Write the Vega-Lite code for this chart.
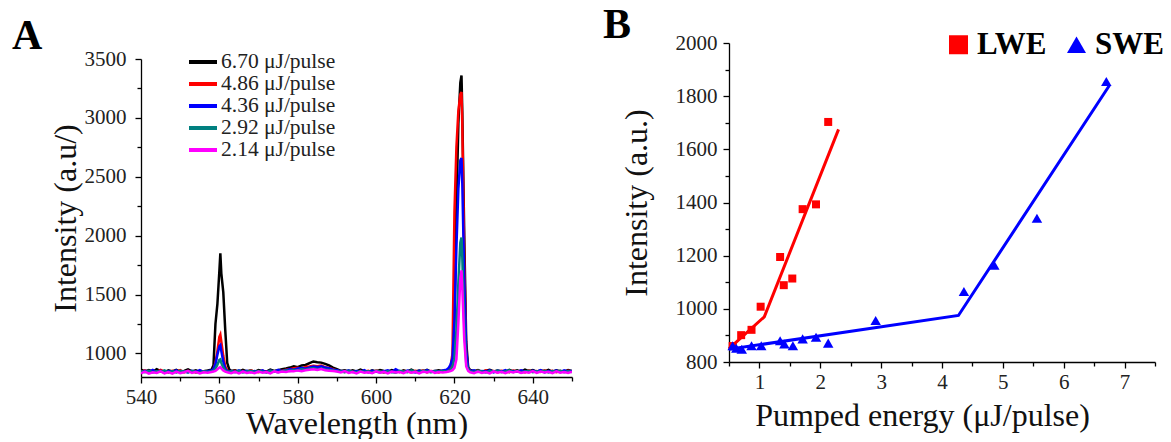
{
  "$schema": "https://vega.github.io/schema/vega-lite/v6.json",
  "background": "white",
  "padding": {"left": 12, "top": 4, "right": 0, "bottom": 0},
  "config": {
    "font": "Liberation Serif",
    "view": {"stroke": null},
    "axis": {"domainColor": "#000", "domainWidth": 1.3, "tickColor": "#000", "tickWidth": 1.3, "labelColor": "#222", "titleColor": "#111", "labelFont": "Liberation Serif", "titleFont": "Liberation Serif", "labelFontSize": 21, "titleFontSize": 32, "titleFontWeight": "normal", "grid": false, "labelPadding": 3, "labelFlush": false}
  },
  "resolve": {"scale": {"color": "independent", "shape": "independent", "x": "independent", "y": "independent"}, "legend": {"color": "independent", "shape": "independent"}},
  "spacing": 30,
  "hconcat": [
    {
      "bounds": "flush",
      "spacing": 15,
      "vconcat": [
        {"width": 431, "height": 1, "data": {"values": []}, "mark": "point"},
        {
          "width": 431,
          "height": 318,
          "title": {"text": "A", "fontSize": 42, "fontWeight": "bold", "anchor": "start", "frame": "bounds", "dx": -37, "offset": -10, "color": "#000", "font": "Liberation Serif"},
          "data": {"values": [
            {"w":540,"a":862,"b":845,"c":838,"d":850,"e":832},
            {"w":541,"a":848,"b":856,"c":852,"d":840,"e":845},
            {"w":542,"a":858,"b":838,"c":845,"d":852,"e":828},
            {"w":543,"a":845,"b":850,"c":860,"d":838,"e":840},
            {"w":544,"a":866,"b":842,"c":840,"d":848,"e":834},
            {"w":545,"a":850,"b":860,"c":852,"d":844,"e":848},
            {"w":546,"a":842,"b":846,"c":836,"d":856,"e":830},
            {"w":547,"a":856,"b":838,"c":850,"d":840,"e":842},
            {"w":548,"a":848,"b":852,"c":844,"d":848,"e":828},
            {"w":549,"a":860,"b":844,"c":856,"d":838,"e":846},
            {"w":550,"a":846,"b":858,"c":840,"d":852,"e":832},
            {"w":551,"a":852,"b":840,"c":848,"d":846,"e":840},
            {"w":552,"a":864,"b":850,"c":838,"d":840,"e":852},
            {"w":553,"a":848,"b":846,"c":852,"d":850,"e":834},
            {"w":554,"a":856,"b":838,"c":844,"d":842,"e":844},
            {"w":555,"a":842,"b":852,"c":858,"d":836,"e":830},
            {"w":556,"a":850,"b":846,"c":842,"d":848,"e":840},
            {"w":557,"a":855,"b":848,"c":850,"d":842,"e":836},
            {"w":558,"a":862,"b":852,"c":856,"d":848,"e":842},
            {"w":558.5,"a":900,"b":862,"c":868,"d":852,"e":846},
            {"w":559,"a":1250,"b":920,"c":910,"d":872,"e":852},
            {"w":559.5,"a":1420,"b":1020,"c":990,"d":905,"e":866},
            {"w":560,"a":1700,"b":1140,"c":1060,"d":945,"e":880},
            {"w":560.25,"a":1850,"b":1160,"c":1070,"d":950,"e":884},
            {"w":560.5,"a":1680,"b":1100,"c":1020,"d":920,"e":872},
            {"w":561,"a":1520,"b":980,"c":930,"d":880,"e":856},
            {"w":561.5,"a":1200,"b":890,"c":870,"d":856,"e":846},
            {"w":562,"a":920,"b":856,"c":852,"d":846,"e":840},
            {"w":562.5,"a":866,"b":848,"c":846,"d":842,"e":836},
            {"w":563,"a":852,"b":844,"c":850,"d":848,"e":832},
            {"w":564,"a":858,"b":852,"c":842,"d":840,"e":844},
            {"w":565,"a":846,"b":840,"c":856,"d":852,"e":830},
            {"w":566,"a":860,"b":850,"c":844,"d":838,"e":846},
            {"w":567,"a":848,"b":842,"c":852,"d":846,"e":834},
            {"w":568,"a":854,"b":856,"c":840,"d":852,"e":840},
            {"w":569,"a":844,"b":846,"c":850,"d":840,"e":832},
            {"w":570,"a":858,"b":840,"c":844,"d":850,"e":846},
            {"w":571,"a":850,"b":852,"c":856,"d":844,"e":836},
            {"w":572,"a":846,"b":844,"c":842,"d":838,"e":842},
            {"w":573,"a":862,"b":850,"c":852,"d":852,"e":830},
            {"w":574,"a":852,"b":846,"c":846,"d":846,"e":848},
            {"w":575,"a":858,"b":856,"c":860,"d":840,"e":838},
            {"w":576,"a":866,"b":852,"c":850,"d":850,"e":846},
            {"w":577,"a":872,"b":862,"c":858,"d":856,"e":842},
            {"w":578,"a":880,"b":866,"c":866,"d":852,"e":850},
            {"w":579,"a":890,"b":874,"c":862,"d":860,"e":848},
            {"w":580,"a":884,"b":878,"c":872,"d":858,"e":856},
            {"w":581,"a":898,"b":870,"c":876,"d":866,"e":850},
            {"w":582,"a":902,"b":886,"c":870,"d":862,"e":858},
            {"w":583,"a":918,"b":890,"c":882,"d":870,"e":862},
            {"w":584,"a":932,"b":896,"c":888,"d":874,"e":866},
            {"w":585,"a":926,"b":892,"c":884,"d":866,"e":860},
            {"w":586,"a":922,"b":898,"c":890,"d":872,"e":868},
            {"w":587,"a":912,"b":884,"c":880,"d":864,"e":858},
            {"w":588,"a":898,"b":876,"c":874,"d":860,"e":854},
            {"w":589,"a":880,"b":866,"c":862,"d":856,"e":850},
            {"w":590,"a":866,"b":856,"c":858,"d":850,"e":846},
            {"w":591,"a":852,"b":848,"c":850,"d":846,"e":838},
            {"w":592,"a":858,"b":842,"c":846,"d":840,"e":850},
            {"w":593,"a":846,"b":852,"c":856,"d":852,"e":834},
            {"w":594,"a":856,"b":846,"c":842,"d":844,"e":842},
            {"w":595,"a":848,"b":838,"c":850,"d":838,"e":830},
            {"w":596,"a":862,"b":850,"c":844,"d":850,"e":846},
            {"w":597,"a":850,"b":844,"c":858,"d":842,"e":836},
            {"w":598,"a":844,"b":852,"c":840,"d":848,"e":840},
            {"w":599,"a":856,"b":840,"c":852,"d":836,"e":832},
            {"w":600,"a":848,"b":854,"c":846,"d":852,"e":848},
            {"w":601,"a":860,"b":846,"c":838,"d":846,"e":836},
            {"w":602,"a":852,"b":838,"c":850,"d":840,"e":844},
            {"w":603,"a":846,"b":850,"c":856,"d":848,"e":830},
            {"w":604,"a":858,"b":844,"c":842,"d":842,"e":846},
            {"w":605,"a":850,"b":856,"c":866,"d":836,"e":838},
            {"w":606,"a":842,"b":842,"c":848,"d":852,"e":842},
            {"w":607,"a":856,"b":850,"c":840,"d":846,"e":832},
            {"w":608,"a":848,"b":846,"c":854,"d":840,"e":848},
            {"w":609,"a":862,"b":838,"c":846,"d":856,"e":836},
            {"w":610,"a":846,"b":852,"c":838,"d":844,"e":844},
            {"w":611,"a":854,"b":844,"c":852,"d":838,"e":830},
            {"w":612,"a":848,"b":856,"c":844,"d":852,"e":846},
            {"w":613,"a":860,"b":840,"c":858,"d":846,"e":838},
            {"w":614,"a":846,"b":850,"c":842,"d":840,"e":850},
            {"w":615,"a":852,"b":846,"c":850,"d":848,"e":834},
            {"w":616,"a":858,"b":838,"c":846,"d":844,"e":842},
            {"w":617,"a":850,"b":852,"c":856,"d":850,"e":838},
            {"w":618,"a":856,"b":848,"c":862,"d":846,"e":842},
            {"w":618.5,"a":860,"b":856,"c":876,"d":850,"e":846},
            {"w":619,"a":872,"b":884,"c":905,"d":862,"e":850},
            {"w":619.5,"a":905,"b":1000,"c":960,"d":885,"e":858},
            {"w":620,"a":1300,"b":2200,"c":1280,"d":960,"e":878},
            {"w":620.5,"a":2250,"b":2750,"c":1900,"d":1200,"e":950},
            {"w":621,"a":2950,"b":3060,"c":2400,"d":1600,"e":1260},
            {"w":621.5,"a":3300,"b":3200,"c":2640,"d":1940,"e":1640},
            {"w":621.8,"a":3360,"b":3220,"c":2660,"d":1985,"e":1705},
            {"w":622,"a":3050,"b":2950,"c":2450,"d":1820,"e":1560},
            {"w":622.5,"a":2000,"b":1800,"c":1650,"d":1250,"e":1120},
            {"w":623,"a":1100,"b":1000,"c":1020,"d":920,"e":890},
            {"w":623.5,"a":882,"b":872,"c":872,"d":862,"e":852},
            {"w":624,"a":860,"b":852,"c":850,"d":848,"e":840},
            {"w":625,"a":850,"b":844,"c":856,"d":840,"e":832},
            {"w":626,"a":858,"b":852,"c":842,"d":852,"e":846},
            {"w":627,"a":846,"b":840,"c":850,"d":846,"e":834},
            {"w":628,"a":854,"b":856,"c":846,"d":838,"e":842},
            {"w":629,"a":862,"b":846,"c":856,"d":850,"e":830},
            {"w":630,"a":848,"b":850,"c":840,"d":844,"e":848},
            {"w":631,"a":856,"b":838,"c":852,"d":852,"e":836},
            {"w":632,"a":850,"b":852,"c":846,"d":840,"e":844},
            {"w":633,"a":844,"b":846,"c":858,"d":848,"e":832},
            {"w":634,"a":860,"b":840,"c":842,"d":856,"e":846},
            {"w":635,"a":848,"b":854,"c":850,"d":842,"e":838},
            {"w":636,"a":856,"b":846,"c":844,"d":850,"e":848},
            {"w":637,"a":846,"b":852,"c":856,"d":838,"e":834},
            {"w":638,"a":862,"b":840,"c":848,"d":846,"e":842},
            {"w":639,"a":850,"b":856,"c":842,"d":852,"e":836},
            {"w":640,"a":858,"b":844,"c":852,"d":840,"e":850},
            {"w":641,"a":846,"b":850,"c":846,"d":848,"e":834},
            {"w":642,"a":854,"b":842,"c":858,"d":844,"e":846},
            {"w":643,"a":848,"b":856,"c":840,"d":852,"e":838},
            {"w":644,"a":860,"b":846,"c":850,"d":838,"e":844},
            {"w":645,"a":844,"b":852,"c":846,"d":850,"e":832},
            {"w":646,"a":856,"b":840,"c":854,"d":844,"e":848},
            {"w":647,"a":850,"b":850,"c":842,"d":852,"e":836},
            {"w":648,"a":846,"b":844,"c":856,"d":840,"e":842},
            {"w":649,"a":858,"b":852,"c":848,"d":848,"e":834},
            {"w":650,"a":850,"b":846,"c":852,"d":842,"e":846}
          ]},
          "transform": [{"fold": ["a", "b", "c", "d", "e"], "as": ["series", "intensity"]}],
          "mark": {"type": "line", "strokeWidth": 2.5, "clip": true},
          "encoding": {
            "x": {"field": "w", "type": "quantitative",
              "scale": {"domain": [540, 650], "nice": false, "zero": false},
              "axis": {"title": "Wavelength (nm)", "values": [540,550,560,570,580,590,600,610,620,630,640,650],
                "labelExpr": "datum.value % 20 === 0 ? datum.label : ''",
                "tickSize": {"condition": {"test": "datum.value % 20 !== 0", "value": 4}, "value": 6},
                "titlePadding": 1}},
            "y": {"field": "intensity", "type": "quantitative",
              "scale": {"domain": [800, 3500], "nice": false, "zero": false},
              "axis": {"title": "Intensity (a.u/)", "values": [1000,1250,1500,1750,2000,2250,2500,2750,3000,3250,3500],
                "labelExpr": "datum.value % 500 === 0 ? datum.label : ''",
                "format": "d",
                "tickSize": {"condition": {"test": "datum.value % 500 !== 0", "value": 4}, "value": 6},
                "labelPadding": 9, "titlePadding": 2}},
            "color": {"field": "series", "type": "nominal",
              "scale": {"domain": ["a", "b", "c", "d", "e"], "range": ["#000000", "#ff0000", "#0000ff", "#008080", "#ff00ff"]},
              "legend": {"title": null, "orient": "none", "legendX": 46, "legendY": 9, "symbolType": "stroke", "symbolStrokeWidth": 4, "symbolSize": 784, "clipHeight": 20, "labelFontSize": 21.5, "labelColor": "#222", "labelOffset": 2, "rowPadding": 0, "labelFont": "Liberation Serif",
                "labelExpr": "{'a': '6.70 μJ/pulse', 'b': '4.86 μJ/pulse', 'c': '4.36 μJ/pulse', 'd': '2.92 μJ/pulse', 'e': '2.14 μJ/pulse'}[datum.label]"}}
          }
        }
      ]
    },
    {
      "width": 426,
      "height": 319,
      "title": {"text": "B", "fontSize": 42, "fontWeight": "bold", "anchor": "start", "frame": "bounds", "dx": -17, "offset": -18, "color": "#000", "font": "Liberation Serif"},
      "encoding": {
        "x": {"field": "e", "type": "quantitative",
          "scale": {"domain": [0.5, 7.5], "nice": false, "zero": false},
          "axis": {"title": "Pumped energy (μJ/pulse)", "values": [0.5,1,1.5,2,2.5,3,3.5,4,4.5,5,5.5,6,6.5,7,7.5],
            "labelExpr": "datum.value % 1 === 0 ? format(datum.value, 'd') : ''",
            "tickSize": {"condition": {"test": "datum.value % 1 !== 0", "value": 4}, "value": 6},
            "titlePadding": 8, "titleX": 193}},
        "y": {"field": "i", "type": "quantitative",
          "scale": {"domain": [800, 2000], "nice": false, "zero": false},
          "axis": {"title": "Intensity (a.u.)", "values": [800,900,1000,1100,1200,1300,1400,1500,1600,1700,1800,1900,2000],
            "labelExpr": "datum.value % 200 === 0 ? datum.label : ''",
            "format": "d",
            "tickSize": {"condition": {"test": "datum.value % 200 !== 0", "value": 4}, "value": 6},
            "labelPadding": 6, "titlePadding": 22}}
      },
      "layer": [
        {
          "data": {"values": [
            {"series": "LWE", "e": 0.5, "i": 850},
            {"series": "LWE", "e": 1.08, "i": 970},
            {"series": "LWE", "e": 2.3, "i": 1675},
            {"series": "SWE", "e": 0.5, "i": 848},
            {"series": "SWE", "e": 4.27, "i": 975},
            {"series": "SWE", "e": 6.75, "i": 1840}
          ]},
          "mark": {"type": "line", "strokeWidth": 3},
          "encoding": {
            "detail": {"field": "series", "type": "nominal"},
            "color": {"condition": {"test": "datum.series === 'LWE'", "value": "#ff0000"}, "value": "#0000ff"}
          }
        },
        {
          "data": {"values": [
            {"series": "LWE", "e": 0.56, "i": 860},
            {"series": "LWE", "e": 0.70, "i": 901},
            {"series": "LWE", "e": 0.87, "i": 921},
            {"series": "LWE", "e": 1.02, "i": 1008},
            {"series": "LWE", "e": 1.34, "i": 1195},
            {"series": "LWE", "e": 1.40, "i": 1089},
            {"series": "LWE", "e": 1.54, "i": 1114},
            {"series": "LWE", "e": 1.71, "i": 1375},
            {"series": "LWE", "e": 1.93, "i": 1393},
            {"series": "LWE", "e": 2.13, "i": 1703},
            {"series": "SWE", "e": 0.56, "i": 861},
            {"series": "SWE", "e": 0.62, "i": 852},
            {"series": "SWE", "e": 0.71, "i": 848},
            {"series": "SWE", "e": 0.87, "i": 861},
            {"series": "SWE", "e": 1.03, "i": 861},
            {"series": "SWE", "e": 1.34, "i": 880},
            {"series": "SWE", "e": 1.41, "i": 868},
            {"series": "SWE", "e": 1.55, "i": 861},
            {"series": "SWE", "e": 1.71, "i": 887},
            {"series": "SWE", "e": 1.93, "i": 893},
            {"series": "SWE", "e": 2.13, "i": 871},
            {"series": "SWE", "e": 2.91, "i": 956},
            {"series": "SWE", "e": 4.36, "i": 1065},
            {"series": "SWE", "e": 4.86, "i": 1164},
            {"series": "SWE", "e": 5.56, "i": 1341},
            {"series": "SWE", "e": 6.70, "i": 1855}
          ]},
          "mark": {"type": "point", "filled": true, "opacity": 1},
          "encoding": {
            "size": {"condition": {"test": "datum.series === 'SWE'", "value": 110}, "value": 64},
            "shape": {"field": "series", "type": "nominal", "scale": {"domain": ["LWE", "SWE"], "range": ["square", "triangle-up"]},
              "legend": {"title": null, "orient": "none", "legendX": 214, "legendY": -14, "direction": "horizontal", "symbolSize": 361, "symbolStrokeWidth": 0, "labelFontSize": 31, "labelFontWeight": "bold", "labelFont": "Liberation Serif", "columnPadding": 14, "labelOffset": 3,
                "encode": {"labels": {"update": {"fill": {"signal": "datum.value === 'LWE' ? '#ff0000' : '#0000ff'"}}}}}},
            "color": {"field": "series", "type": "nominal", "scale": {"domain": ["LWE", "SWE"], "range": ["#ff0000", "#0000ff"]},
              "legend": {"title": null, "orient": "none", "legendX": 214, "legendY": -14, "direction": "horizontal", "symbolSize": 361, "symbolStrokeWidth": 0, "labelFontSize": 31, "labelFontWeight": "bold", "labelFont": "Liberation Serif", "columnPadding": 14, "labelOffset": 3,
                "encode": {"labels": {"update": {"fill": {"signal": "datum.value === 'LWE' ? '#ff0000' : '#0000ff'"}}}}}}
          }
        }
      ]
    }
  ]
}
